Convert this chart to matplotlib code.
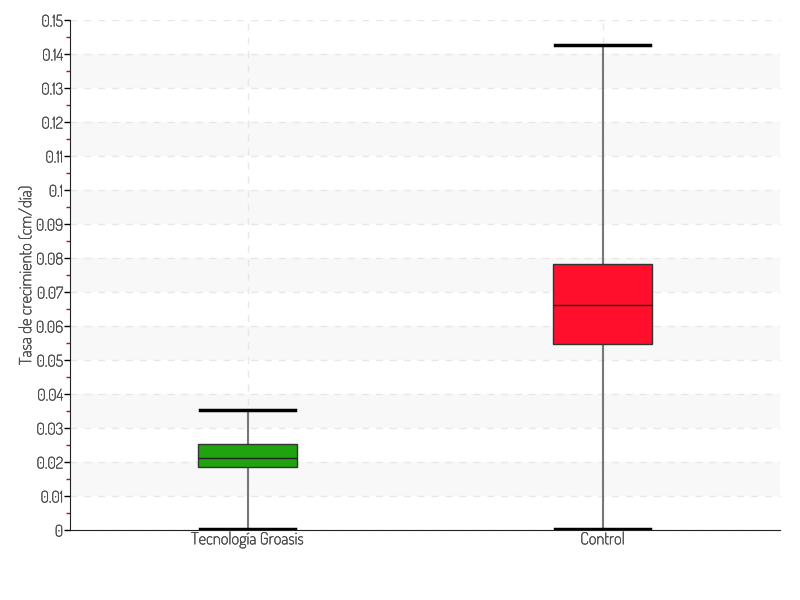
import matplotlib
matplotlib.use("Agg")
import matplotlib.pyplot as plt
import matplotlib.patheffects as pe
from matplotlib import font_manager
from matplotlib.ticker import MultipleLocator, FuncFormatter

# box statistics
categories = ["Tecnología Groasis", "Control"]
whisker_low = [0.0003, 0.0003]
q1 = [0.0185, 0.0547]
median = [0.0213, 0.0663]
q3 = [0.0253, 0.0782]
whisker_high = [0.0353, 0.1426]
box_colors = ["#21a30f", "#ff0f2b"]
band_starts = [0.01, 0.03, 0.05, 0.07, 0.09, 0.11, 0.13]

names = {f.name for f in font_manager.fontManager.ttflist}
family = next((f for f in ["Dosis", "Rajdhani", "DejaVu Sans"] if f in names), "DejaVu Sans")
plt.rcParams["font.family"] = [family, "DejaVu Sans"]

TEXT = "#484848"
# Dosis comes out a little thin, so thicken the strokes slightly
thicken = [pe.withStroke(linewidth=0.3, foreground=TEXT)]

fig = plt.figure(figsize=(8, 6), dpi=100)
ax = fig.add_axes([0.0875, 0.1167, 0.8875, 0.85])

stats = []
for i, name in enumerate(categories):
    stats.append({
        "label": name,
        "whislo": whisker_low[i],
        "q1": q1[i],
        "med": median[i],
        "q3": q3[i],
        "whishi": whisker_high[i],
        "fliers": [],
    })

bp = ax.bxp(stats, positions=[0, 1], widths=0.28, patch_artist=True,
            showfliers=False, capwidths=0.27,
            boxprops=dict(edgecolor="#333333", linewidth=1),
            medianprops=dict(color="#222222", linewidth=1),
            whiskerprops=dict(color="#777777", linewidth=1.5),
            capprops=dict(color="black", linewidth=2.5))
for patch, c in zip(bp["boxes"], box_colors):
    patch.set_facecolor(c)
    patch.set_zorder(3)
for key in ("caps", "medians"):
    for ln in bp[key]:
        ln.set_zorder(4)
for ln in bp["whiskers"]:
    ln.set_zorder(2)

# alternating bands
for lo in band_starts:
    ax.axhspan(lo, lo + 0.01, color="#f8f8f8", zorder=0, linewidth=0)

ax.yaxis.set_major_locator(MultipleLocator(0.01))
ax.yaxis.set_minor_locator(MultipleLocator(0.005))
ax.yaxis.set_major_formatter(FuncFormatter(lambda v, pos: f"{round(v, 3):g}"))
ax.set_xlim(-0.5, 1.5)
ax.set_ylim(0, 0.15)
ax.grid(True, which="major", linestyle=(0, (5, 5)), color="#e8e8e8", linewidth=1)
ax.set_axisbelow(True)

ax.tick_params(axis="y", which="major", length=4, width=1, color="black",
               labelsize=11.5, labelcolor=TEXT, pad=1)
ax.tick_params(axis="y", which="minor", length=3, width=1, color="#dd0000")
ax.tick_params(axis="x", length=0, labelsize=12, labelcolor=TEXT, pad=1)

for side in ("top", "right"):
    ax.spines[side].set_visible(False)
ax.spines["left"].set_color("#222222")
ax.spines["bottom"].set_color("#222222")

ax.set_ylabel("Tasa de crecimiento (cm/día)", fontsize=12, color=TEXT)
ax.yaxis.set_label_coords(-0.049, 0.5)

for t in ax.get_xticklabels() + ax.get_yticklabels() + [ax.yaxis.label]:
    t.set_path_effects(thicken)

fig.savefig("out.png", dpi=100)
